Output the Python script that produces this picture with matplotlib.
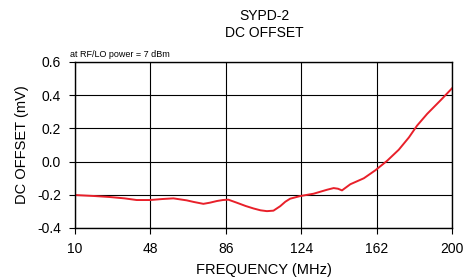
import matplotlib
matplotlib.use("Agg")
import matplotlib.pyplot as plt

plt.rcParams['font.family'] = ['Liberation Sans', 'DejaVu Sans']

# Data
freq = [10, 20, 27.7, 35, 41.1, 47.8, 54, 59.6, 66.3, 70, 74.7, 78, 81.5,
        84.5, 87.3, 91.5, 96, 100, 103.5, 106.7, 110, 113.4, 116, 118.4,
        123.5, 130.2, 137, 140.3, 142.5, 144.5, 148.7, 155.5, 161.3, 167.2,
        173.1, 178.2, 182.3, 187.4, 194.1, 200]
offset = [-0.202, -0.208, -0.214, -0.222, -0.232, -0.232, -0.226, -0.222,
          -0.234, -0.244, -0.255, -0.248, -0.238, -0.232, -0.230, -0.248,
          -0.268, -0.283, -0.294, -0.299, -0.296, -0.269, -0.242, -0.224,
          -0.208, -0.194, -0.170, -0.160, -0.164, -0.174, -0.137, -0.101,
          -0.053, 0.004, 0.071, 0.145, 0.216, 0.287, 0.368, 0.442]

xticks = [10, 48, 86, 124, 162, 200]
yticks = [-0.4, -0.2, 0.0, 0.2, 0.4, 0.6]

fig = plt.figure(figsize=(4.77, 2.8), dpi=100)
ax = fig.add_axes([0.157, 0.186, 0.791, 0.593])

ax.plot(freq, offset, color='#e8202a', linewidth=1.4)

ax.set_xlim(10, 200)
ax.set_ylim(-0.4, 0.6)
ax.set_xticks(xticks)
ax.set_yticks(yticks)
ax.set_yticklabels(['%.1f' % v for v in yticks])
ax.grid(True, color='black', linewidth=0.8)
ax.tick_params(direction='out', length=4, width=0.8, labelsize=10, pad=6)
for s in ax.spines.values():
    s.set_linewidth(1.0)

ax.set_xlabel("FREQUENCY (MHz)", fontsize=10.5, labelpad=5)
ax.set_ylabel("DC OFFSET (mV)", fontsize=10.5, labelpad=6)

fig.text(0.555, 0.943, "SYPD-2", ha='center', va='center', fontsize=10)
fig.text(0.555, 0.882, "DC OFFSET", ha='center', va='center', fontsize=10)
ax.text(-0.012, 1.02, "at RF/LO power = 7 dBm", transform=ax.transAxes,
        ha='left', va='bottom', fontsize=6.5)

fig.savefig("out.png", dpi=100)
